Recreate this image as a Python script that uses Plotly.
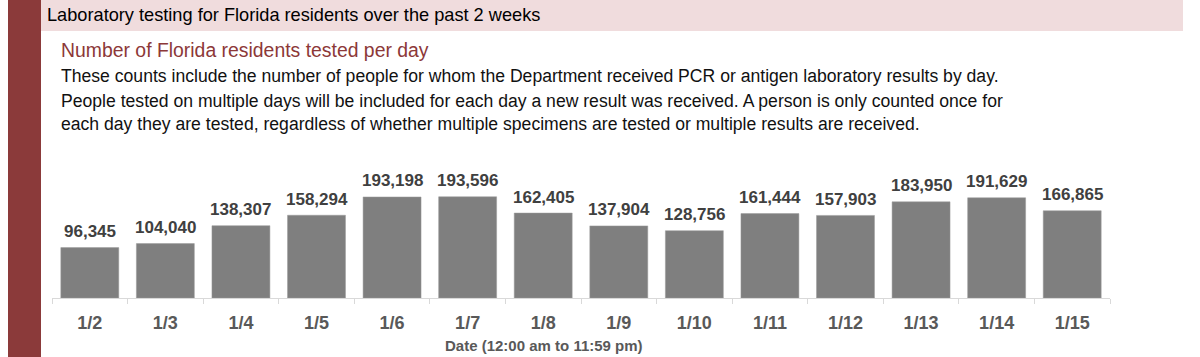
import plotly.graph_objects as go

# ---- data ----
dates = ["1/2", "1/3", "1/4", "1/5", "1/6", "1/7", "1/8", "1/9", "1/10",
         "1/11", "1/12", "1/13", "1/14", "1/15"]
tested = [96345, 104040, 138307, 158294, 193198, 193596, 162405, 137904,
          128756, 161444, 157903, 183950, 191629, 166865]

header_title = "Laboratory testing for Florida residents over the past 2 weeks"
chart_title = "Number of Florida residents tested per day"
description = [
    "These counts include the number of people for whom the Department received PCR or antigen laboratory results by day.",
    "People tested on multiple days will be included for each day a new result was received. A person is only counted once for",
    "each day they are tested, regardless of whether multiple specimens are tested or multiple results are received.",
]
x_title = "Date (12:00 am to 11:59 pm)"

# ---- geometry (pixels) ----
W, H = 1200, 357
ML, MR, MT, MB = 52, 90, 150, 59
PW = W - ML - MR
PH = H - MT - MB


def px(x):
    return (x - ML) / PW


def py(y):
    return (H - MB - y) / PH


DARK_RED = "#8b3a3a"
PINK = "#f0dcdd"
FONT = "Liberation Sans, Arial, sans-serif"

fig = go.Figure()
fig.add_trace(go.Bar(
    x=dates, y=tested,
    marker=dict(color="#7f7f7f", line=dict(color="#9a9a9a", width=0.5)),
    hoverinfo="x+y",
))

annotations = []
for d, v in zip(dates, tested):
    annotations.append(dict(
        x=d, y=v, xref="x", yref="y", text=f"{v:,}", showarrow=False,
        yanchor="middle", yshift=16,
        font=dict(family=FONT, size=17, color="#404040", weight="bold"),
    ))

annotations.append(dict(
    x=px(45), y=py(15), xref="paper", yref="paper", text=header_title,
    showarrow=False, xanchor="left", yanchor="middle",
    font=dict(family=FONT, size=18.2, color="#000000"),
))
annotations.append(dict(
    x=px(59), y=py(50), xref="paper", yref="paper", text=chart_title,
    showarrow=False, xanchor="left", yanchor="middle",
    font=dict(family=FONT, size=19.4, color="#8c3838"),
))
for i, line in enumerate(description):
    annotations.append(dict(
        x=px(59), y=py(76.5 + 24 * i), xref="paper", yref="paper", text=line,
        showarrow=False, xanchor="left", yanchor="middle",
        font=dict(family=FONT, size=17.6, color="#111111"),
    ))
annotations.append(dict(
    x=px(544), y=py(345), xref="paper", yref="paper", text=x_title,
    showarrow=False, xanchor="center", yanchor="middle",
    font=dict(family=FONT, size=15, color="#595959", weight="bold"),
))

shapes = [
    dict(type="rect", xref="paper", yref="paper", layer="below",
         x0=px(41), x1=px(1183), y0=py(0), y1=py(31),
         fillcolor=PINK, line=dict(width=0)),
    dict(type="rect", xref="paper", yref="paper", layer="above",
         x0=px(8), x1=px(41), y0=py(0), y1=py(H),
         fillcolor=DARK_RED, line=dict(width=0)),
]

fig.update_layout(
    width=W, height=H,
    margin=dict(l=ML, r=MR, t=MT, b=MB),
    paper_bgcolor="white", plot_bgcolor="white",
    showlegend=False,
    bargap=0.233,
    annotations=annotations,
    shapes=shapes,
    xaxis=dict(
        type="category",
        showline=True, linecolor="#d9d9d9", linewidth=1,
        ticks="outside", ticklen=5, tickcolor="#d9d9d9", tickson="boundaries",
        tickfont=dict(family=FONT, size=18, color="#595959", weight="bold"),
        ticklabelstandoff=8,
        showgrid=False, zeroline=False,
    ),
    yaxis=dict(
        range=[0, 283000], visible=False, showgrid=False, zeroline=False,
    ),
)

fig.write_html(
    "out.html",
    config={"displayModeBar": False},
    post_script="document.body.style.margin='0';document.body.style.overflow='hidden';",
)
